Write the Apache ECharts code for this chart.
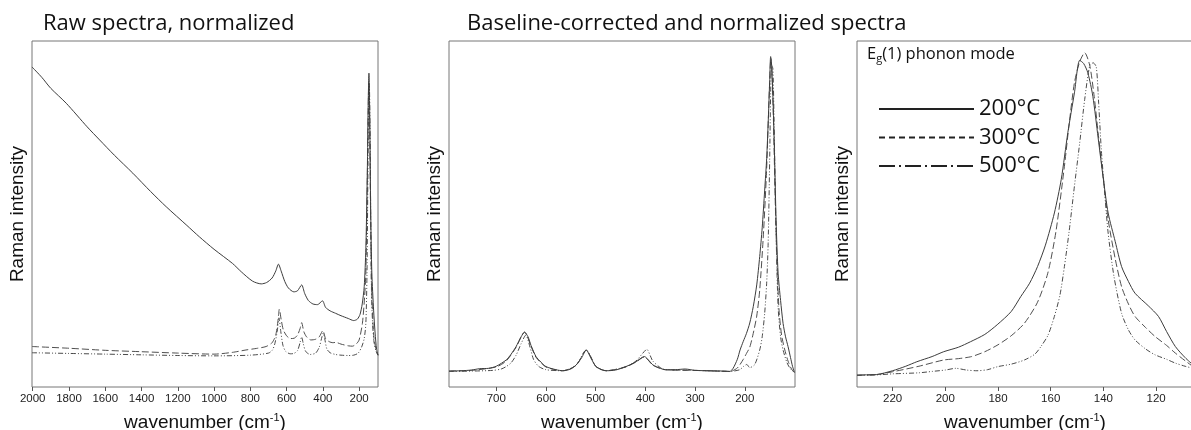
<!DOCTYPE html>
<html><head><meta charset="utf-8">
<script src="https://cdn.jsdelivr.net/npm/echarts@6/dist/echarts.min.js"></script>
<style>html,body{margin:0;padding:0;background:#fff}#c{width:1191px;height:430px}</style>
</head><body><div id="c"></div>
<script>
// ---- tick labels ----
const ticksRaw = [2000,1800,1600,1400,1200,1000,800,600,400,200];
const ticksBase = [700,600,500,400,300,200];
const ticksEg = [220,200,180,160,140,120];
const seriesNames = ['200°C','300°C','500°C'];

// ---- Panel 1: raw spectra, normalized  [wavenumber, intensity] ----
const raw200 = [[2004,92.5],[1950,89.5],[1900,86.3],[1815,82.0],[1700,75.2],[1631,71.4],[1550,67.0],[1448,61.8],[1350,56.5],[1264,52.1],[1150,46.7],[1081,43.4],[1000,39.8],[898,35.7],[850,33.3],[788,30.6],[740,29.8],[710,30.2],[680,31.5],[660,33.5],[645,35.5],[630,33.5],[610,30.5],[590,28.6],[560,27.5],[540,27.8],[517,29.5],[500,27],[480,25],[455,24.0],[430,23.8],[402,24.9],[385,23],[360,22],[330,21.3],[300,20.6],[260,19.8],[230,19.2],[210,19.6],[195,21],[183,24],[172,29],[163,40],[155,62],[150,82],[146,90.7],[142,80],[136,50],[130,33],[120,22],[112,15.6],[104,11],[96,9.2]];
const raw300 = [[2004,11.7],[1800,11.2],[1600,10.6],[1400,10.2],[1200,9.8],[1000,9.5],[900,10.0],[824,10.7],[760,11.2],[713,11.7],[680,12.8],[660,15],[648,19],[640,22.5],[630,19.5],[618,16.5],[600,14.8],[580,14.0],[558,14.1],[540,15],[525,17],[517,18.6],[505,16],[490,14.5],[466,13.6],[440,13.8],[420,14.5],[400,16.3],[385,14],[365,13.1],[345,12.8],[329,12.9],[300,12.4],[260,11.9],[237,11.8],[215,12.5],[200,13.6],[182,18.4],[170,26],[163,33],[155,60],[150,80],[147,87.7],[143,80],[138,55],[132,30],[125,20],[118,14],[105,10.5],[96,9.2]];
const raw500 = [[2004,9.9],[1800,9.7],[1600,9.5],[1400,9.3],[1200,9.1],[1000,9.0],[800,9.2],[700,9.8],[678,10.7],[665,12.5],[652,16],[642,20],[632,16],[620,12],[605,10.3],[580,9.6],[560,9.7],[540,10.5],[525,13],[517,14.5],[508,12.5],[495,10.3],[470,9.4],[440,9.8],[420,11.5],[405,14.5],[398,15.6],[390,14],[378,11],[360,9.9],[330,9.4],[300,9.2],[260,9.1],[230,9.2],[205,9.8],[186,11.6],[172,14],[163,18.4],[157,32],[152,60],[148,82],[144,87.7],[140,75],[136,48],[132,28],[126,18.5],[118,13],[108,10.5],[96,9.2]];

// ---- Panel 2: baseline-corrected and normalized ----
const base200 = [[795,4.6],[770,4.7],[750,4.9],[733,5.3],[715,5.4],[700,6.0],[680,7.8],[670,9.5],[660,11.7],[650,14.5],[643,15.8],[636,14.5],[630,12.0],[620,8.8],[610,7.2],[600,5.9],[580,5.0],[566,4.7],[550,5.2],[539,6.4],[528,8.5],[519,10.7],[510,8.5],[499,5.9],[479,4.7],[460,4.9],[439,5.9],[419,7.3],[402,8.8],[392,7.5],[385,6.4],[370,5.4],[360,5.0],[340,5.0],[320,5.2],[300,4.8],[270,4.7],[240,4.6],[230,4.5],[223.5,5.4],[215,8],[209.5,10.7],[203,13.2],[196.6,15.5],[190,18.5],[183,23.2],[176,29.5],[170,37.7],[165,46],[160,56.9],[156,66],[153,76.2],[150,88],[148,95.5],[146,93],[143,82],[140,66],[137,48],[133,32.9],[128,25],[123,18.4],[118,14.5],[113,11.7],[108,8.5],[104,6],[100,4.2]];
const base300 = [[795,4.6],[750,4.8],[700,5.8],[680,7.5],[660,11.5],[643,15.9],[630,11.8],[620,8.6],[600,5.8],[566,4.7],[539,6.3],[519,10.6],[499,5.8],[479,4.7],[439,5.8],[419,7.2],[402,8.7],[385,6.3],[360,5.0],[300,4.8],[230,4.5],[215,5.5],[203,8.0],[196.6,9.7],[190,11.5],[183,15.5],[176,20.5],[170,28],[163,43],[156.4,61.8],[152,80],[149,92],[147.5,95],[145,90],[142,75],[139,55],[135,35],[131,22],[126,15],[120,11],[113,7.5],[106,5.2],[100,4.2]];
const base500 = [[795,4.5],[750,4.6],[707,4.8],[690,5.2],[680,5.9],[670,7.0],[660,9.2],[650,12.5],[640.5,15.0],[632,11.5],[625,8.0],[615,6.0],[600,5.0],[566,4.7],[539,6.4],[519,10.7],[499,5.9],[479,4.7],[439,5.9],[419,7.5],[405,9.8],[397,10.9],[390,9.0],[385,7.5],[370,5.6],[360,5.0],[300,4.8],[230,4.5],[210,5.0],[203,5.9],[196,6.5],[190,5.6],[180,6.5],[170,10.7],[165,14.5],[160,21.3],[156,30],[153,41.5],[150,65],[148,85],[146,93],[143.5,92],[141.5,80],[139.6,64.3],[137,44],[133,23.2],[128,14.5],[123,10.7],[115,7.0],[108,5.2],[100,4.2]];

// ---- Panel 3: Eg(1) phonon mode ----
const eg200 = [[233.5,3.4],[231,3.5],[226,3.6],[220,4.7],[215,6.0],[210.8,7.3],[205,8.8],[200.6,10.2],[195,11.5],[190.4,13.1],[185,15.2],[180.3,18.0],[175,21.8],[171.3,26.2],[168,30],[165,34.8],[162,41],[158.6,50.3],[156,60],[153.5,73.5],[151,85],[149,94.4],[147.5,93.5],[145.9,90.8],[144,84],[142,72],[140,60],[138.2,50.3],[135.5,42],[133.1,34.8],[130.5,30.5],[128,27.1],[123,23.5],[119.1,20.4],[116,16],[112.7,11.7],[109,8.5],[106,6.4]];
const eg300 = [[233.5,3.4],[226,3.6],[220,4.4],[210,6.0],[200.6,7.8],[195,8.2],[190,8.8],[185,10.2],[180,12.2],[175,14.8],[170,18.4],[165,24.5],[161.1,32.9],[158,45],[154.8,63.8],[153,76],[151,87.9],[149,94],[147.1,96.6],[145.2,93],[143.5,84],[142,73.5],[140,60],[138.2,48.4],[135.5,37],[133.1,29.0],[130.5,24],[128,20.4],[124,17.2],[120.4,14.6],[116,12],[112.7,9.8],[109,7.6],[106,5.9]];
const eg500 = [[233.5,3.4],[226,3.5],[220,3.8],[210,4.1],[205,4.5],[200,4.9],[196,5.4],[192,4.9],[188,4.7],[184,5.0],[180,5.9],[175,6.6],[170,7.8],[166,9.5],[163.7,11.7],[161,15],[158.6,20.4],[156.5,26.5],[154.8,34.8],[153,45],[151,58.0],[149,70.5],[147.1,83.1],[145.2,92.8],[143.9,93.7],[142.7,92.5],[141.8,82],[140.8,68.6],[139.5,56],[138.2,44.5],[136,32],[133.1,21.3],[130.5,16.5],[128,13.6],[124,11.0],[120.4,9.3],[116,8.0],[112.7,6.9],[109,6.0],[106,5.4]];

const panelData = [[raw200,raw300,raw500],[base200,base300,base500],[eg200,eg300,eg500]];
const lineTypes = ['solid',[7,3],[5,2,1,2,1,2]];
const lineColors = ['#3c3c3c','#505050','#4a4a4a'];

const chart = echarts.init(document.getElementById('c'), null, {renderer:'canvas'});
const titleFont = '"Open Sans", sans-serif';
const axFont = '"Liberation Sans", Arial, sans-serif';

const grids = [
  {left:32, top:41, width:346, height:346},
  {left:449, top:41, width:346, height:346},
  {left:857, top:41, width:336, height:346}
].map(g => Object.assign({show:true, borderColor:'#777', borderWidth:1, backgroundColor:'transparent',
  containLabel:false, outerBoundsMode:'none'}, g));

const xRanges = [[96,2004,ticksRaw],[99,795,ticksBase],[106,233.5,ticksEg]];
const xAxes = xRanges.map((r,i) => ({
  type:'value', gridIndex:i, min:r[0], max:r[1], inverse:true,
  name:'wavenumber (cm{s|-1})', nameLocation:'middle', nameGap:25,
  nameTextStyle:{fontFamily:axFont, fontSize:19, color:'#111', lineHeight:22,
    rich:{s:{fontFamily:axFont, fontSize:11, color:'#111', verticalAlign:'top', lineHeight:12}}},
  axisLine:{show:false},
  axisTick:{show:true, inside:false, length:4, lineStyle:{color:'#555'}, customValues:r[2]},
  axisLabel:{fontFamily:axFont, fontSize:11.5, color:'#222', margin:6, customValues:r[2],
    formatter:(v) => String(v)},
  splitLine:{show:false}
}));
const yAxes = [0,1,2].map(i => ({
  type:'value', gridIndex:i, min:0, max:100,
  name:'Raman intensity', nameLocation:'middle', nameGap:5,
  nameTextStyle:{fontFamily:axFont, fontSize:19, color:'#111'},
  axisLine:{show:false}, axisTick:{show:false}, axisLabel:{show:false}, splitLine:{show:false}
}));

const series = [];
panelData.forEach((set, p) => {
  set.forEach((d, k) => {
    series.push({
      type:'line', name:seriesNames[k], xAxisIndex:p, yAxisIndex:p,
      data:d, symbol:'none', showSymbol:false, smooth:0.25,
      lineStyle:{color:lineColors[k], width:1, type:lineTypes[k]},
      itemStyle:{color:lineColors[k]},
      emphasis:{disabled:true}, silent:true, z:3-k
    });
  });
});

chart.setOption({
  animation:false,
  backgroundColor:'#fff',
  grid:grids, xAxis:xAxes, yAxis:yAxes, series:series,
  title:[
    {text:'Raw spectra, normalized', left:38, top:8, textStyle:{fontFamily:titleFont, fontSize:22, fontWeight:'normal', color:'#111'}},
    {text:'Baseline-corrected and normalized spectra', left:462, top:8, textStyle:{fontFamily:titleFont, fontSize:22, fontWeight:'normal', color:'#111'}},
    {text:'{n|E}{s|g}{n|(1) phonon mode}', left:862, top:39, textStyle:{fontWeight:'normal', rich:{
      n:{fontFamily:titleFont, fontSize:16.5, fontWeight:'normal', color:'#111', lineHeight:20},
      s:{fontFamily:titleFont, fontSize:11, fontWeight:'normal', color:'#111', verticalAlign:'bottom', lineHeight:14, padding:[6,0,0,0]}}}}
  ],
  legend:{
    orient:'vertical', left:873, top:92, itemWidth:95, itemHeight:14, itemGap:4.5,
    selectedMode:false,
    itemStyle:{opacity:0},
    textStyle:{fontFamily:titleFont, fontSize:22, color:'#111', lineHeight:24},
    data:[
      {name:'200°C', itemStyle:{opacity:0}, lineStyle:{type:'solid', width:2, color:'#222'}},
      {name:'300°C', itemStyle:{opacity:0}, lineStyle:{type:[6,4], width:2, color:'#222'}},
      {name:'500°C', itemStyle:{opacity:0}, lineStyle:{type:[16,4,2,4], width:2, color:'#222'}}
    ]
  }
});
</script></body></html>
